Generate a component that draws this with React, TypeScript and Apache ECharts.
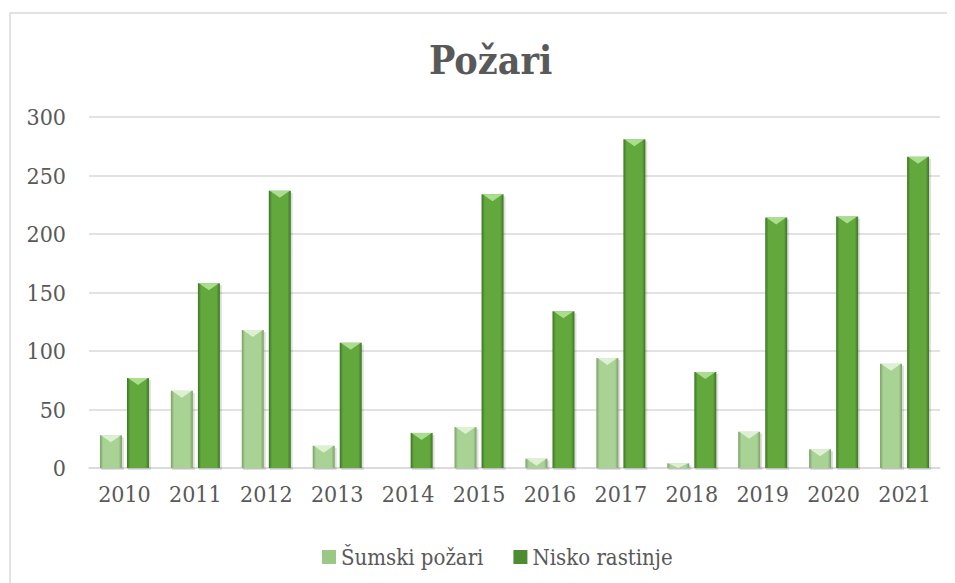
import React, { useEffect, useRef } from "react";
import * as echarts from "echarts";

const years = ["2010", "2011", "2012", "2013", "2014", "2015", "2016", "2017", "2018", "2019", "2020", "2021"];
const sumskiPozari = [28, 66, 118, 19, 0, 35, 8, 94, 4, 31, 16, 89];
const niskoRastinje = [77, 158, 237, 107, 30, 234, 134, 281, 82, 214, 215, 266];
const yTicks = [0, 50, 100, 150, 200, 250, 300];

const FONT = "'DejaVu Serif Condensed', 'DejaVu Serif', serif";
const TEXT = "#595959";

const palettes = [
  { edge: "#7a9f66", mid: "#a9d394", cap: "#e2f3d8", legend: "#9cc886" },
  { edge: "#3c7424", mid: "#62a83d", cap: "#b2e296", legend: "#4d8c2f" },
];

function makeRender(seriesIdx: number) {
  return (params: any, api: any) => {
    const idx = api.value(0);
    const val = api.value(1);
    const base = api.coord([idx, 0]);
    const top = api.coord([idx, val]);
    const band = api.size([1, 0])[0];
    const bw = band * 0.31;
    const gap = bw * 0.23;
    const off = seriesIdx === 0 ? -(bw + gap) / 2 : (bw + gap) / 2;
    const cx = base[0] + off;
    const x0 = cx - bw / 2;
    const h = base[1] - top[1];
    if (h <= 0.5) return { type: "group", children: [] };
    const p = palettes[seriesIdx];
    const bev = Math.min(7, h);
    const grad = new echarts.graphic.LinearGradient(0, 0, 1, 0, [
      { offset: 0, color: p.edge },
      { offset: 0.15, color: p.mid },
      { offset: 0.5, color: p.mid },
      { offset: 0.85, color: p.mid },
      { offset: 1, color: p.edge },
    ]);
    return {
      type: "group",
      children: [
        {
          type: "rect",
          shape: { x: x0 + 1, y: top[1] + 2, width: bw + 1, height: h },
          style: { fill: "rgba(0,0,0,0.12)" },
        },
        {
          type: "rect",
          shape: { x: x0, y: top[1], width: bw, height: h },
          style: { fill: grad },
        },
        {
          type: "polygon",
          shape: {
            points: [
              [x0 + 1, top[1]],
              [x0 + bw - 1, top[1]],
              [cx, top[1] + bev],
            ],
          },
          style: { fill: p.cap, opacity: 0.9 },
        },
      ],
    };
  };
}

export default function App() {
  const ref = useRef<HTMLDivElement>(null);
  useEffect(() => {
    if (!ref.current) return;
    const chart = echarts.init(ref.current, null, { renderer: "svg" });
    chart.setOption({
      animation: false,
      backgroundColor: "#ffffff",
      textStyle: { fontFamily: FONT, color: TEXT },
      graphic: [
        {
          type: "rect",
          shape: { x: 2, y: 5, width: 1000, height: 1000 },
          style: { fill: "none", stroke: "#d9d9d9", lineWidth: 1.5 },
          z: -1,
        },
      ],
      title: {
        text: "Požari",
        left: 416,
        top: 27,
        textStyle: { fontFamily: FONT, fontSize: 39, fontWeight: "bold", color: TEXT },
      },
      legend: {
        left: 309,
        top: 533,
        itemWidth: 14,
        itemHeight: 14,
        itemGap: 30,
        icon: "rect",
        formatter: "{s|{name}}",
        textStyle: {
          fontFamily: FONT,
          fontSize: 22,
          color: TEXT,
          rich: { s: { fontFamily: FONT, fontSize: 22, color: TEXT } },
        },
        data: ["Šumski požari", "Nisko rastinje"],
      },
      grid: { left: 81, right: 15, top: 109, bottom: 115 },
      xAxis: {
        type: "category",
        data: years,
        axisLine: { lineStyle: { color: "#d9d9d9", width: 1.5 } },
        axisTick: { show: false },
        axisLabel: { fontFamily: FONT, fontSize: 23, color: TEXT, margin: 14 },
      },
      yAxis: {
        type: "value",
        min: yTicks[0],
        max: yTicks[yTicks.length - 1],
        interval: 50,
        axisLine: { show: false },
        axisTick: { show: false },
        splitLine: { lineStyle: { color: "#d9d9d9", width: 1.5 } },
        axisLabel: { fontFamily: FONT, fontSize: 23, color: TEXT, margin: 23 },
      },
      series: [
        {
          name: "Šumski požari",
          type: "custom",
          renderItem: makeRender(0),
          encode: { x: 0, y: 1 },
          itemStyle: { color: palettes[0].legend },
          data: sumskiPozari.map((v, i) => [i, v]),
        },
        {
          name: "Nisko rastinje",
          type: "custom",
          renderItem: makeRender(1),
          encode: { x: 0, y: 1 },
          itemStyle: { color: palettes[1].legend },
          data: niskoRastinje.map((v, i) => [i, v]),
        },
      ],
    });
    return () => chart.dispose();
  }, []);
  return <div ref={ref} style={{ width: 947, height: 575 }} />;
}
